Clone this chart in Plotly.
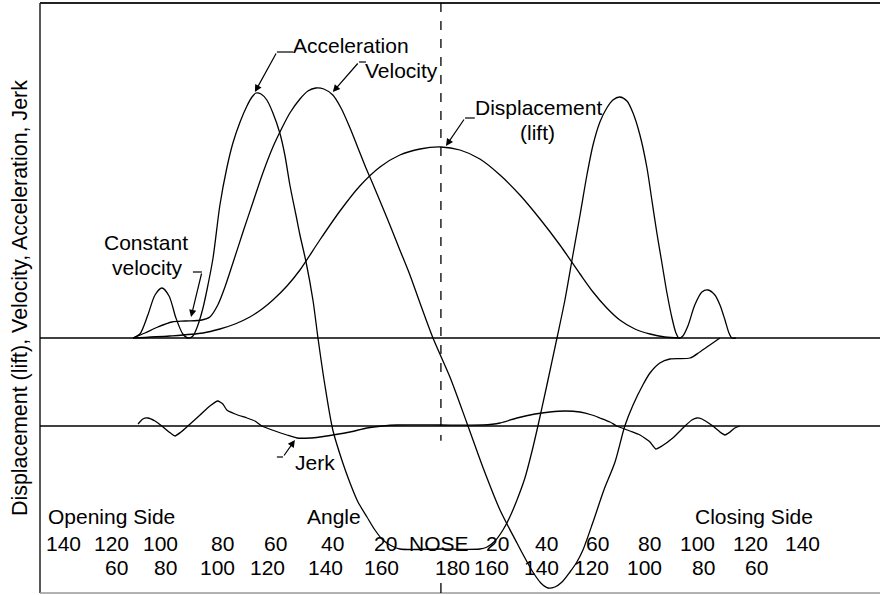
import plotly.graph_objects as go

# ---- data (x: cam angle from nose, degrees; y: relative units) ----
disp_x = [-116.2, -102.3, -89.8, -83.4, -77.7, -72.1, -67.5, -63.4, -58.1, -53.2, -45.7, -38.1, -30.6, -23.0, -15.5, -7.9, 0.0,
          7.2, 14.7, 22.3, 29.8, 37.4, 44.9, 52.5, 57.4, 62.6, 67.5, 73.2, 78.9, 84.5, 90.2]
disp_y = [0, 2, 5, 9, 14, 21, 29, 38, 52, 68, 98, 127, 152, 171, 183, 189, 191,
          188, 179, 163, 143, 119, 93, 64, 46, 30, 18, 9, 4, 1, 0]

vel_x = [-116.2, -111.7, -106.8, -101.5, -96.6, -90.2, -87.2, -84.2, -81.5, -78.5, -74.7, -70.9, -67.2, -63.4, -60.0, -57.0,
         -53.2, -50.2, -47.2, -44.2, -40.8, -37.7, -34.3, -31.3, -28.3, -26.0, -21.9, -18.5, -15.5, -11.7, -7.9, -3.0,
         3.4, 9.8, 15.8, 22.3, 28.7, 31.7, 34.7, 37.7, 40.4, 43.0, 45.7, 48.7, 51.3, 53.6, 57.4, 61.5, 65.7, 69.4, 72.5,
         76.2, 78.9, 82.6, 86.4, 94.0, 97.7, 101.5, 105.3]
vel_y = [0, 5, 11, 16, 17, 18, 21, 33, 51, 75, 106, 136, 165, 191, 210, 225,
         239, 247, 250, 249, 243, 230, 210, 190, 170, 156, 130, 108, 88, 63, 35, 0,
         -39, -85, -129, -172, -205, -220, -234, -245, -250, -249, -244, -234, -224, -212, -184, -152, -124, -88, -67,
         -47, -35, -25, -21, -20, -14, -7, 0]

acc_x = [-116.2, -113.6, -110.6, -107.9, -105.3, -102.6, -100.0, -97.4, -95.5, -93.6, -91.7, -89.8, -88.3, -86.0, -83.4,
         -80.8, -78.5, -75.8, -73.2, -71.3, -69.8, -67.9, -65.7, -63.4, -60.8, -58.9, -57.0, -54.7, -53.2, -50.9, -48.3,
         -46.4, -43.8, -40.8, -37.4, -34.3, -31.3, -27.9, -24.9, -21.9, -18.5, -15.5, 0.0, 14.7, 17.4, 20.4, 23.4, 26.0,
         28.7, 31.7, 34.3, 36.6, 40.0, 43.8, 46.8, 49.8, 52.5, 55.1, 57.4, 60.0, 62.6, 64.9, 67.5, 70.2, 72.5, 75.1,
         77.7, 79.6, 81.5, 83.4, 85.3, 87.2, 88.7, 89.8, 91.3, 93.2, 95.8, 98.5, 100.8, 103.4, 105.3, 107.2, 108.7,
         109.8, 111.3]
acc_y = [0, 4, 23, 43, 50, 42, 20, 4, 0, 2, 13, 30, 48, 80, 133,
         170, 195, 216, 232, 241, 245, 244, 238, 225, 205, 183, 153, 123, 103, 76, 38,
         0, -47, -92, -122, -145, -164, -179, -192, -202, -208, -211, -211, -211, -209, -203, -192, -179,
         -162, -140, -114, -88, -47, 0, 38, 83, 123, 163, 193, 216, 230, 238, 241, 237, 225, 203,
         171, 138, 105, 75, 45, 20, 5, 0, 2, 12, 33, 46, 48, 43, 33, 18, 5,
         0, 0]

jerk_x = [-114.3, -112.5, -110.6, -107.9, -105.3, -102.6, -100.4, -98.1, -95.5, -90.9, -87.2, -84.2, -82.3, -80.8, -77.7,
          -73.2, -70.2, -67.5, -62.6, -58.1, -54.3, -49.4, -45.7, -40.8, -34.3, -27.9, -21.9, -16.6, 0.0, 15.8, 22.3,
          28.7, 35.5, 41.1, 46.8, 52.5, 57.0, 60.0, 63.8, 66.4, 71.3, 75.1, 77.4, 78.9, 81.1, 83.4, 87.5, 92.1, 94.7,
          96.6, 98.5, 100.4, 102.6, 105.3, 107.2, 109.1, 110.9, 112.8]
jerk_y = [2, 7, 8, 5, 0, -6, -10, -6, 0, 11, 20, 25, 22, 16, 12,
          8, 5, 0, -5, -9, -12, -12, -11, -9, -6, -2, 0, 1, 1, 1, 3,
          8, 12, 14, 15, 14, 11, 8, 4, 0, -5, -9, -13, -16, -23, -20, -12, 0, 6,
          8, 7, 4, 0, -6, -9, -6, -2, 0]

row1_labels = ["140", "120", "100", "80", "60", "40", "20", "NOSE", "20", "40", "60", "80", "100", "120", "140"]
row1_pos = [-142.6, -124.2, -106.0, -82.6, -62.3, -41.1, -21.1, -0.8, 21.5, 40.0, 58.9, 78.9, 97.0, 117.0, 136.6]
row2_labels = ["60", "80", "100", "120", "140", "160", "180", "160", "140", "120", "100", "80", "60"]
row2_pos = [-122.3, -103.8, -84.5, -65.3, -43.4, -22.6, 4.2, 19.2, 38.1, 57.0, 77.0, 99.2, 119.2]

FONT = "Liberation Sans, Arial, Helvetica, sans-serif"
FS = 21
LINE = dict(color="black", width=1.3)

fig = go.Figure()
for xs, ys in [(disp_x, disp_y), (vel_x, vel_y), (acc_x, acc_y)]:
    fig.add_trace(go.Scatter(x=xs, y=ys, mode="lines", line=dict(shape="spline", smoothing=0.8, **LINE),
                             hoverinfo="skip", showlegend=False))
fig.add_trace(go.Scatter(x=jerk_x, y=jerk_y, mode="lines", yaxis="y2",
                         line=dict(shape="spline", smoothing=0.5, **LINE), hoverinfo="skip", showlegend=False))

shapes = []
# frame
shapes.append(dict(type="line", xref="paper", yref="paper", x0=0, x1=1, y0=1, y1=1, line=dict(color="#222", width=2)))
shapes.append(dict(type="line", xref="paper", yref="paper", x0=0, x1=0, y0=0, y1=1, line=dict(color="#222", width=1.5)))
shapes.append(dict(type="line", xref="paper", yref="paper", x0=0, x1=1, y0=0, y1=0, line=dict(color="#999", width=1.5)))
# baselines
shapes.append(dict(type="line", xref="paper", yref="y", x0=0, x1=1, y0=0, y1=0, line=dict(color="black", width=1.5)))
shapes.append(dict(type="line", xref="paper", yref="y2", x0=0, x1=1, y0=0, y1=0, line=dict(color="black", width=1.5)))
# nose dashed line
shapes.append(dict(type="line", xref="x", yref="paper", x0=0, x1=0, y0=1, y1=0.258, line=dict(color="black", width=1.3, dash="dash")))
shapes.append(dict(type="line", xref="x", yref="paper", x0=0, x1=0, y0=0, y1=0.017, line=dict(color="black", width=1.3)))
# leader stubs
for (x0, y0, x1, y1) in [(-55.8, 286, -61.9, 286), (-28.3, 276, -30.9, 276), (12.8, 220, 9.1, 220),
                         (-93.6, 66, -90.2, 66), (-61.9, -119, -59.6, -119)]:
    shapes.append(dict(type="line", xref="x", yref="y", x0=x0, y0=y0, x1=x1, y1=y1, line=dict(color="black", width=1.2)))

ann = []
def txt(t, x, y):
    ann.append(dict(text=t, x=x, y=y, xref="x", yref="y", showarrow=False,
                    font=dict(family=FONT, size=FS, color="black"), xanchor="center", yanchor="middle"))

def arrow(tx, ty, ax, ay):
    ann.append(dict(text="", x=tx, y=ty, ax=ax, ay=ay, xref="x", yref="y", axref="x", ayref="y",
                    showarrow=True, arrowhead=2, arrowsize=1.2, arrowwidth=1.2, arrowcolor="black", standoff=0))

txt("Acceleration", -34.0, 293)
txt("Velocity", -14.7, 268)
txt("Displacement", 37.0, 231)
txt("(lift)", 36.6, 206)
txt("Constant", -111.3, 96)
txt("velocity", -110.9, 71)
txt("Jerk", -47.5, -124)
txt("Opening Side", -124.5, -178)
txt("Angle", -40.4, -178)
txt("Closing Side", 118.1, -178)
for t, p in zip(row1_labels, row1_pos):
    txt(t, p, -205)
for t, p in zip(row2_labels, row2_pos):
    txt(t, p, -229)

arrow(-70.2, 246, -61.9, 286)
arrow(-40.8, 246, -30.9, 276)
arrow(1.9, 192, 9.1, 220)
arrow(-94.3, 21, -90.2, 66)
arrow(-55.1, -102, -59.6, -119)

ann.append(dict(text="Displacement (lift), Velocity, Acceleration, Jerk", textangle=-90,
                x=-0.0238, y=0.5, xref="paper", yref="paper", showarrow=False,
                font=dict(family=FONT, size=21.4, color="black"), xanchor="center", yanchor="middle"))

fig.update_layout(
    width=880, height=595,
    margin=dict(l=40, r=0, t=3, b=2),
    paper_bgcolor="white", plot_bgcolor="white",
    xaxis=dict(range=[-151.3, 165.7], visible=False),
    yaxis=dict(range=[-255, 335], visible=False),
    yaxis2=dict(range=[-167, 423], visible=False, overlaying="y"),
    shapes=shapes, annotations=ann, showlegend=False,
)
fig.write_html("out.html", config={"displayModeBar": False},
               post_script="document.body.style.margin='0px';")
